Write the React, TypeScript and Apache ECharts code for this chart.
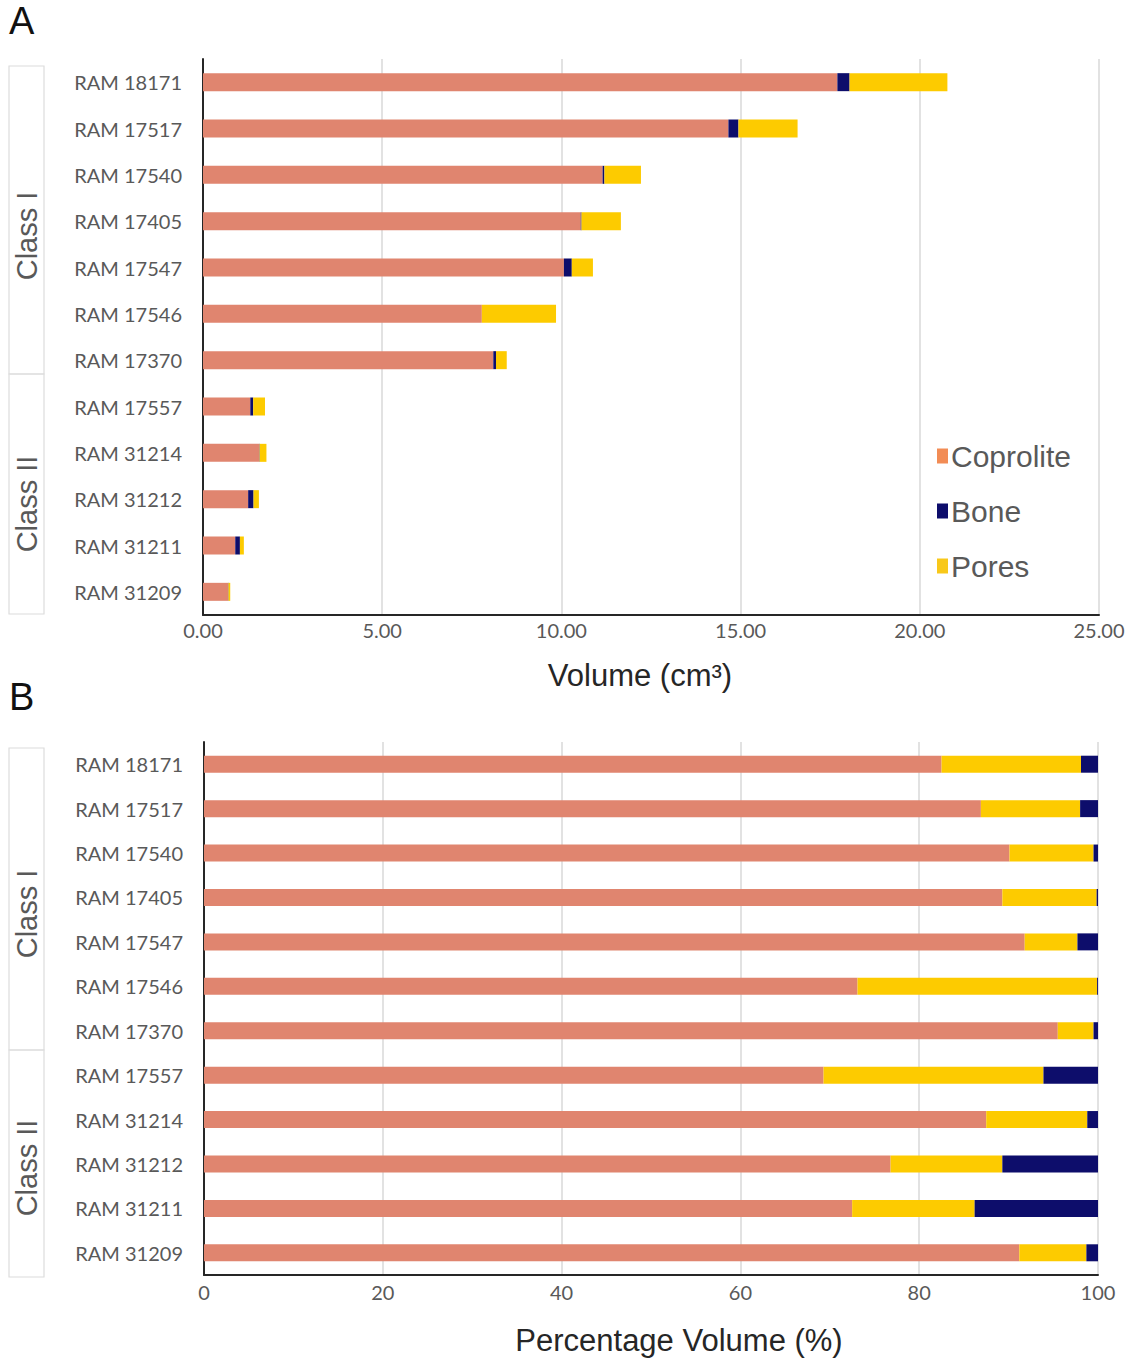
import React, { useEffect, useRef } from "react";
import * as echarts from "echarts";

const categories = [
  "RAM 18171", "RAM 17517", "RAM 17540", "RAM 17405", "RAM 17547", "RAM 17546",
  "RAM 17370", "RAM 17557", "RAM 31214", "RAM 31212", "RAM 31211", "RAM 31209",
];

// Panel A: volume (cm³)
const volCoprolite = [17.70, 14.66, 11.15, 10.54, 10.07, 7.78, 8.10, 1.32, 1.57, 1.26, 0.90, 0.70];
const volBone = [0.34, 0.28, 0.05, 0.02, 0.22, 0.0, 0.075, 0.08, 0.01, 0.15, 0.13, 0.01];
const volPores = [2.73, 1.65, 1.02, 1.10, 0.59, 2.07, 0.30, 0.33, 0.19, 0.15, 0.11, 0.05];

// Panel B: percentage volume (%)
const pctCoprolite = [82.5, 86.9, 90.1, 89.3, 91.8, 73.1, 95.5, 69.3, 87.5, 76.8, 72.5, 91.2];
const pctPores = [15.6, 11.1, 9.4, 10.55, 5.9, 26.8, 4.0, 24.6, 11.3, 12.5, 13.7, 7.5];
const pctBone = [1.9, 2.0, 0.5, 0.15, 2.3, 0.1, 0.5, 6.1, 1.2, 10.7, 13.8, 1.3];

const volTicksFmt = (v: number) => v.toFixed(2);

const C_COP = "#E0856F";
const C_BONE = "#0D0D6B";
const C_PORE = "#FDCB00";
const LABEL = "#595959";
const AXIS = "#262626";
const GRID = "#D9D9D9";

export default function App() {
  const ref = useRef<HTMLDivElement>(null);
  useEffect(() => {
    if (!ref.current) return;
    const chart = echarts.init(ref.current, undefined, { renderer: "svg" });
    const labelFont = { fontFamily: "Lato", fontSize: 20, color: LABEL };
    const yAxisCommon = (gridIndex: number) => ({
      type: "category" as const,
      gridIndex,
      data: categories,
      inverse: true,
      axisLine: { show: true, lineStyle: { color: AXIS, width: 2 } },
      axisTick: { show: false },
      axisLabel: { ...labelFont, margin: 21 },
      splitLine: { show: false },
    });
    const boxStyle = { fill: "none", stroke: "#DCDCDC", lineWidth: 1.2 };
    const classText = (x: number, y: number, t: string) => ({
      type: "text",
      x,
      y,
      rotation: Math.PI / 2,
      style: {
        text: t,
        align: "center",
        verticalAlign: "middle",
        fontFamily: "Liberation Sans",
        fontSize: 29,
        fill: LABEL,
      },
    });
    chart.setOption({
      animation: false,
      backgroundColor: "#fff",
      grid: [
        { left: 203, width: 896, top: 59, height: 556 },
        { left: 204, width: 894, top: 742, height: 533 },
      ],
      legend: {
        orient: "vertical",
        left: 932,
        top: 436,
        itemWidth: 11,
        itemHeight: 15,
        itemGap: 25,
        icon: "rect",
        textStyle: {
          fontFamily: "Liberation Sans",
          fontSize: 30,
          color: LABEL,
          lineHeight: 30,
          padding: [0, 0, 0, -2],
        },
        data: [
          { name: "Coprolite", itemStyle: { color: "#F28C55" } },
          { name: "Bone", itemStyle: { color: C_BONE } },
          { name: "Pores", itemStyle: { color: "#F8C81A" } },
        ],
        selectedMode: false,
      },
      xAxis: [
        {
          type: "value",
          gridIndex: 0,
          min: 0,
          max: 25,
          interval: 5,
          axisLine: { show: true, lineStyle: { color: AXIS, width: 2 } },
          axisTick: { show: false },
          axisLabel: { ...labelFont, margin: 5, formatter: volTicksFmt },
          splitLine: { show: true, lineStyle: { color: GRID, width: 1.5 } },
          name: "Volume (cm³)",
          nameLocation: "middle",
          nameGap: 45,
          nameTextStyle: { fontFamily: "Liberation Sans", fontSize: 31, color: AXIS, padding: [0, 22, 0, 0] },
        },
        {
          type: "value",
          gridIndex: 1,
          min: 0,
          max: 100,
          interval: 20,
          axisLine: { show: true, lineStyle: { color: AXIS, width: 2 } },
          axisTick: { show: false },
          axisLabel: { ...labelFont, margin: 7 },
          splitLine: { show: true, lineStyle: { color: GRID, width: 1.5 } },
          name: "Percentage Volume (%)",
          nameLocation: "middle",
          nameGap: 50,
          nameTextStyle: { fontFamily: "Liberation Sans", fontSize: 31, color: AXIS, padding: [0, 0, 0, 56] },
        },
      ],
      yAxis: [yAxisCommon(0), yAxisCommon(1)],
      series: [
        { name: "Coprolite", type: "bar", stack: "a", xAxisIndex: 0, yAxisIndex: 0, barWidth: 18, itemStyle: { color: C_COP }, data: volCoprolite },
        { name: "Bone", type: "bar", stack: "a", xAxisIndex: 0, yAxisIndex: 0, barWidth: 18, itemStyle: { color: C_BONE }, data: volBone },
        { name: "Pores", type: "bar", stack: "a", xAxisIndex: 0, yAxisIndex: 0, barWidth: 18, itemStyle: { color: C_PORE }, data: volPores },
        { name: "Coprolite", type: "bar", stack: "b", xAxisIndex: 1, yAxisIndex: 1, barWidth: 17, itemStyle: { color: C_COP }, data: pctCoprolite },
        { name: "Pores", type: "bar", stack: "b", xAxisIndex: 1, yAxisIndex: 1, barWidth: 17, itemStyle: { color: C_PORE }, data: pctPores },
        { name: "Bone", type: "bar", stack: "b", xAxisIndex: 1, yAxisIndex: 1, barWidth: 17, itemStyle: { color: C_BONE }, data: pctBone },
      ],
      graphic: [
        { type: "text", left: 9, top: 2, style: { text: "A", fontFamily: "Liberation Sans", fontSize: 38, fill: "#111" } },
        { type: "text", left: 9, top: 678, style: { text: "B", fontFamily: "Liberation Sans", fontSize: 38, fill: "#111" } },
        { type: "rect", shape: { x: 9, y: 66, width: 35, height: 308 }, style: boxStyle },
        { type: "rect", shape: { x: 9, y: 374, width: 35, height: 240 }, style: boxStyle },
        { type: "rect", shape: { x: 9, y: 748, width: 35, height: 302 }, style: boxStyle },
        { type: "rect", shape: { x: 9, y: 1050, width: 35, height: 227 }, style: boxStyle },
        classText(27, 236, "Class I"),
        classText(27, 504, "Class II"),
        classText(27, 914, "Class I"),
        classText(27, 1168, "Class II"),
      ],
    });
    return () => chart.dispose();
  }, []);
  return (
    <div
      ref={ref}
      style={{ position: "absolute", left: 0, top: 0, width: 1137, height: 1361 }}
    />
  );
}
